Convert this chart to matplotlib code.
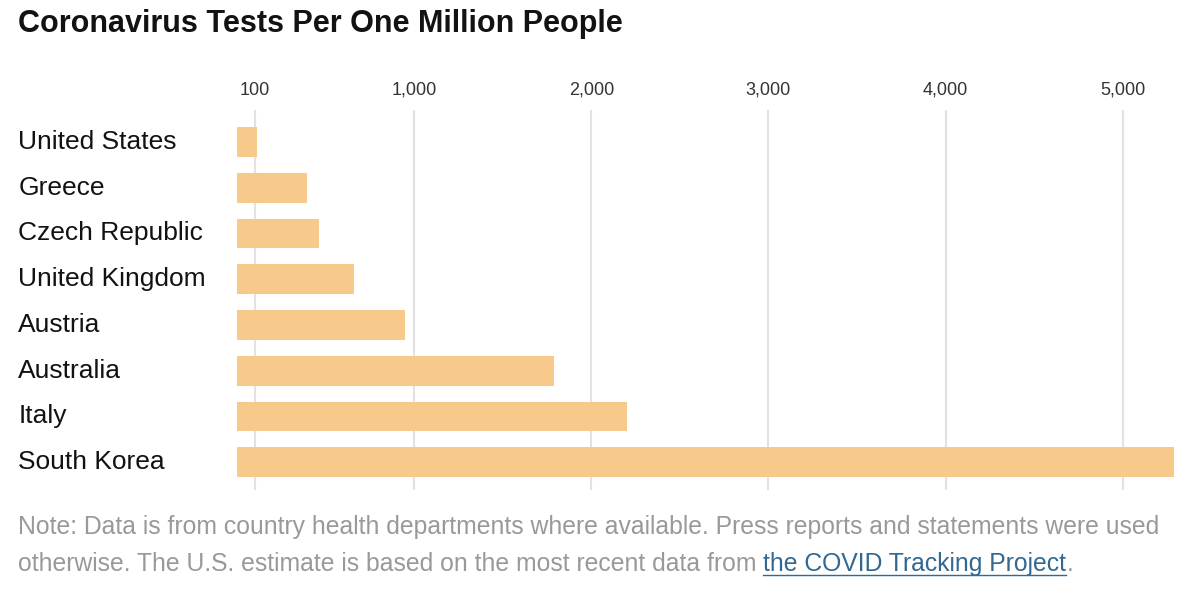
import matplotlib
matplotlib.use("Agg")
import matplotlib.pyplot as plt

countries = ["United States", "Greece", "Czech Republic", "United Kingdom",
             "Austria", "Australia", "Italy", "South Korea"]
tests = [115, 397, 465, 663, 949, 1790, 2200, 5290]
tick_vals = [100, 1000, 2000, 3000, 4000, 5000]
tick_labels = ["100", "1,000", "2,000", "3,000", "4,000", "5,000"]

plt.rcParams['font.family'] = ['Liberation Sans', 'DejaVu Sans']

W, H = 1200, 595
fig = plt.figure(figsize=(12, 5.95), dpi=100)
ax = fig.add_axes([237 / W, 1 - 490 / H, (1174 - 237) / W, (490 - 110) / H])

y = list(range(len(countries)))
ax.barh(y, tests, height=0.65, color="#f7c98b", zorder=2)
ax.set_xlim(0, 5290)
ax.set_ylim(7.61, -0.70)
ax.set_yticks([])
ax.set_xticks(tick_vals)
ax.set_xticklabels(tick_labels, fontsize=13, color="#333333")
ax.xaxis.tick_top()
ax.tick_params(axis="x", length=0, pad=8)
ax.grid(axis="x", color="#e2e2e2", linewidth=1.5, zorder=0)
for s in ax.spines.values():
    s.set_visible(False)

for i, c in enumerate(countries):
    ax.text(-219 / 0.17725, i, c, fontsize=19, va="center", ha="left",
            color="#121212")

fig.text(18 / W, 1 - 24 / H, "Coronavirus Tests Per One Million People",
         fontsize=22, fontweight="bold", va="center", color="#121212")

grey = "#999999"
fig.text(18 / W, 1 - 527 / H,
         "Note: Data is from country health departments where available. Press reports and statements were used",
         fontsize=17.8, color=grey, va="center")
t = fig.text(18 / W, 1 - 564 / H,
             "otherwise. The U.S. estimate is based on the most recent data from ",
             fontsize=17.8, color=grey, va="center")
fig.canvas.draw()
bb = t.get_window_extent()
x1 = bb.x1 / W
link = fig.text(x1, 1 - 564 / H, "the COVID Tracking Project",
                fontsize=17.8, color="#326891", va="center")
fig.canvas.draw()
lb = link.get_window_extent()
fig.add_artist(plt.Line2D([lb.x0 / W, lb.x1 / W], [(lb.y0 + 1) / H] * 2,
                          color="#326891", linewidth=1))
fig.text(lb.x1 / W, 1 - 564 / H, ".", fontsize=17.8, color=grey, va="center")

fig.savefig("out.png", dpi=100)
